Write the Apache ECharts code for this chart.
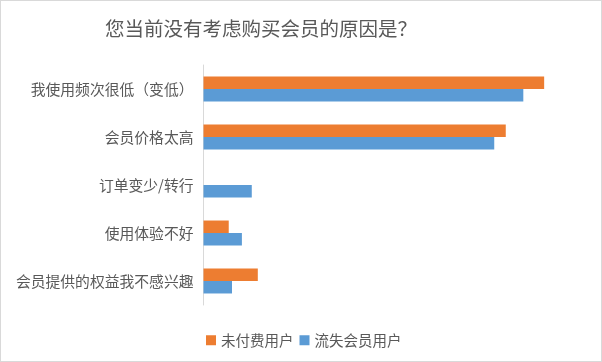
<!DOCTYPE html>
<html><head><meta charset="utf-8">
<script src="https://cdn.jsdelivr.net/npm/echarts@6/dist/echarts.min.js"></script>
<style>html,body{margin:0;padding:0;background:#fff}#c{width:602px;height:362px;box-sizing:border-box;border:1px solid #d9d9d9}</style>
</head><body><div id="c"></div>
<script>
const categories = ['我使用频次很低（变低）','会员价格太高','订单变少/转行','使用体验不好','会员提供的权益我不感兴趣'];
const seriesNames = ['未付费用户','流失会员用户'];
const unpaid = [62.1, 55.1, 0, 4.6, 9.9];
const lapsed = [58.3, 53.0, 8.8, 7.0, 5.2];
const chart = echarts.init(document.getElementById('c'));
const font = '"Noto Sans CJK SC", "Noto Sans", sans-serif';
chart.setOption({
  animation:false,
  title:{text:'您当前没有考虑购买会员的原因是？',left:99,top:13,textStyle:{fontFamily:font,fontSize:19.5,fontWeight:'normal',color:'#595959'}},
  legend:{data:seriesNames,left:200,top:327,itemWidth:10,itemHeight:10,itemGap:6,icon:'rect',textStyle:{fontFamily:font,fontSize:14.5,color:'#595959'}},
  grid:{left:202.5,right:13.5,top:64,bottom:56,containLabel:false},
  xAxis:{type:'value',min:0,max:70,show:false},
  yAxis:{type:'category',data:categories,inverse:true,axisTick:{show:false},axisLine:{lineStyle:{color:'#d9d9d9'}},axisLabel:{fontFamily:font,fontSize:14.8,color:'#595959',margin:10}},
  series:[
    {name:seriesNames[0],type:'bar',data:unpaid,itemStyle:{color:'#ED7D31'},barGap:'0%',barCategoryGap:'48%'},
    {name:seriesNames[1],type:'bar',data:lapsed,itemStyle:{color:'#5B9BD5'},barGap:'0%',barCategoryGap:'48%'}
  ]
});
</script></body></html>
